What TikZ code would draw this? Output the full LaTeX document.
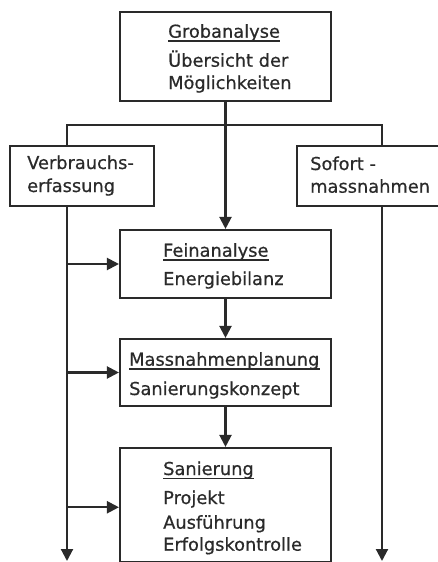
\documentclass[tikz,border=0pt]{standalone}
\usepackage{fontspec}
\setmainfont{DejaVu Sans}[FakeBold=0.6]
\usetikzlibrary{arrows.meta}
\definecolor{ink}{HTML}{2A2A2A}
\begin{document}
\begin{tikzpicture}[x=1pt,y=-1pt,
  box/.style={draw=ink, line width=2.1pt, rectangle, inner sep=0pt},
  lbl/.style={anchor=base west, inner sep=0pt, text=ink, font=\fontsize{17.8}{20}\selectfont},
  conn/.style={draw=ink, line width=2.1pt},
  arr/.style={conn, -{Triangle[length=12pt,width=12pt]}},
  uline/.style={draw=ink, line width=1.4pt}]
\useasboundingbox (0,0) rectangle (438,562);
\clip (0,0) rectangle (438,562);
% boxes
\node[box, minimum width=211pt, minimum height=89pt] (grob) at (225.5,56.5) {};
\node[box, minimum width=144pt, minimum height=60pt] (verb) at (82,176) {};
\node[box, minimum width=153pt, minimum height=60pt] (sof) at (373.5,176) {};
\node[box, minimum width=211pt, minimum height=68pt] (fein) at (225.5,264) {};
\node[box, minimum width=211pt, minimum height=67pt] (mass) at (225.5,372.5) {};
\node[box, minimum width=211pt, minimum height=114.5pt] (san) at (225.5,505.25) {};
% texts
\node[lbl] (g1) at (168,37.7) {Grobanalyse};
\node[lbl] (g2) at (168,66.7) {Übersicht der};
\node[lbl] (g3) at (168,89) {Möglichkeiten};
\node[lbl] (v1) at (27,169) {Verbrauchs-};
\node[lbl] (v2) at (27,192) {erfassung};
\node[lbl] (s1) at (310,170) {Sofort -};
\node[lbl] (s2) at (310,192.7) {massnahmen};
\node[lbl] (f1) at (163,256.7) {Feinanalyse};
\node[lbl] (f2) at (163,285) {Energiebilanz};
\node[lbl] (m1) at (129,365.7) {Massnahmenplanung};
\node[lbl] (m2) at (129,395) {Sanierungskonzept};
\node[lbl] (n1) at (163,475) {Sanierung};
\node[lbl] (n2) at (163,504) {Projekt};
\node[lbl] (n3) at (163,528.7) {Ausführung};
\node[lbl] (n4) at (163,550.7) {Erfolgskontrolle};
% underlines
\foreach \t in {g1,f1,m1,n1}
  \draw[uline] ([yshift=-3.4pt]\t.base west) -- ([yshift=-3.4pt]\t.base east);
% connectors
\coordinate (bl) at (67,125);
\coordinate (br) at (382,125);
\coordinate (lend) at (67,561);
\coordinate (rend) at (382,561);
\draw[conn] (bl |- verb.north) -- (bl) -- (br) -- (br |- sof.north);
\draw[arr] (grob.south) -- (fein.north);
\draw[arr] (fein.south) -- (mass.north);
\draw[arr] (mass.south) -- (san.north);
\draw[arr] (bl |- verb.south) -- (lend);
\draw[arr] (br |- sof.south) -- (rend);
\draw[arr] (bl |- fein.west) -- (fein.west);
\draw[arr] (bl |- mass.west) -- (mass.west);
\draw[arr] ([yshift=-2pt]bl |- san.west) -- ([yshift=-2pt]san.west);
\end{tikzpicture}
\end{document}
